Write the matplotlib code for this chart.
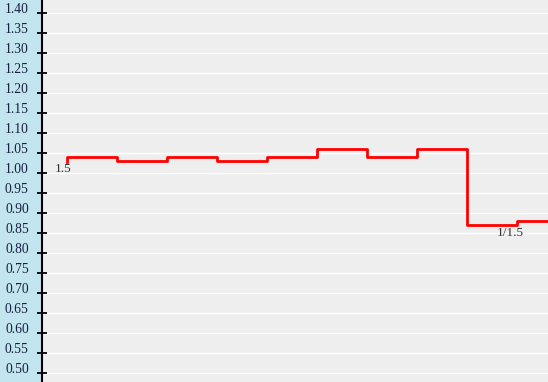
import numpy as np
import matplotlib
matplotlib.use("Agg")
import matplotlib.pyplot as plt

# step positions (each step 1 unit wide) and ratio values
steps = [0, 1, 2, 3, 4, 5, 6, 7, 8, 9, 10]
ratios = [1.027, 1.04, 1.03, 1.04, 1.03, 1.04, 1.06, 1.04, 1.06, 0.87, 0.88]
yticks = [round(0.50 + 0.05 * i, 2) for i in range(19)]
marks = [(-0.08, 1.01, "1.5"), (8.86, 0.85, "1/1.5")]

plt.rcParams["font.family"] = ["Liberation Serif", "DejaVu Serif"]

fig = plt.figure(figsize=(5.48, 3.82), dpi=100)
fig.patch.set_facecolor("#c2e5f0")
ax = fig.add_axes([42 / 548, 0, 506 / 548, 1])
ax.set_facecolor("#eeeeee")

ax.step(steps, ratios, where="pre", color="#ff0000", lw=2, zorder=3)

for x, y, s in marks:
    ax.text(x, y, s, fontsize=9.5, color="#333333", ha="center", va="center")

ax.set_xlim(-0.5, 9.62)
ax.set_ylim(0.4775, 1.433)
ax.set_yticks(yticks)
ax.set_yticklabels([f"{v:.2f}" for v in yticks], va="baseline")
ax.set_xticks([])
ax.yaxis.grid(True, color="white", lw=1.0)
ax.set_axisbelow(True)

for side in ["top", "right", "bottom"]:
    ax.spines[side].set_visible(False)
ax.spines["left"].set_linewidth(1.5)
ax.tick_params(axis="y", direction="inout", length=7, width=1.3, pad=6,
               labelsize=9.8, labelcolor="#1a2040")

fig.savefig("out.png", dpi=100, facecolor=fig.get_facecolor())
